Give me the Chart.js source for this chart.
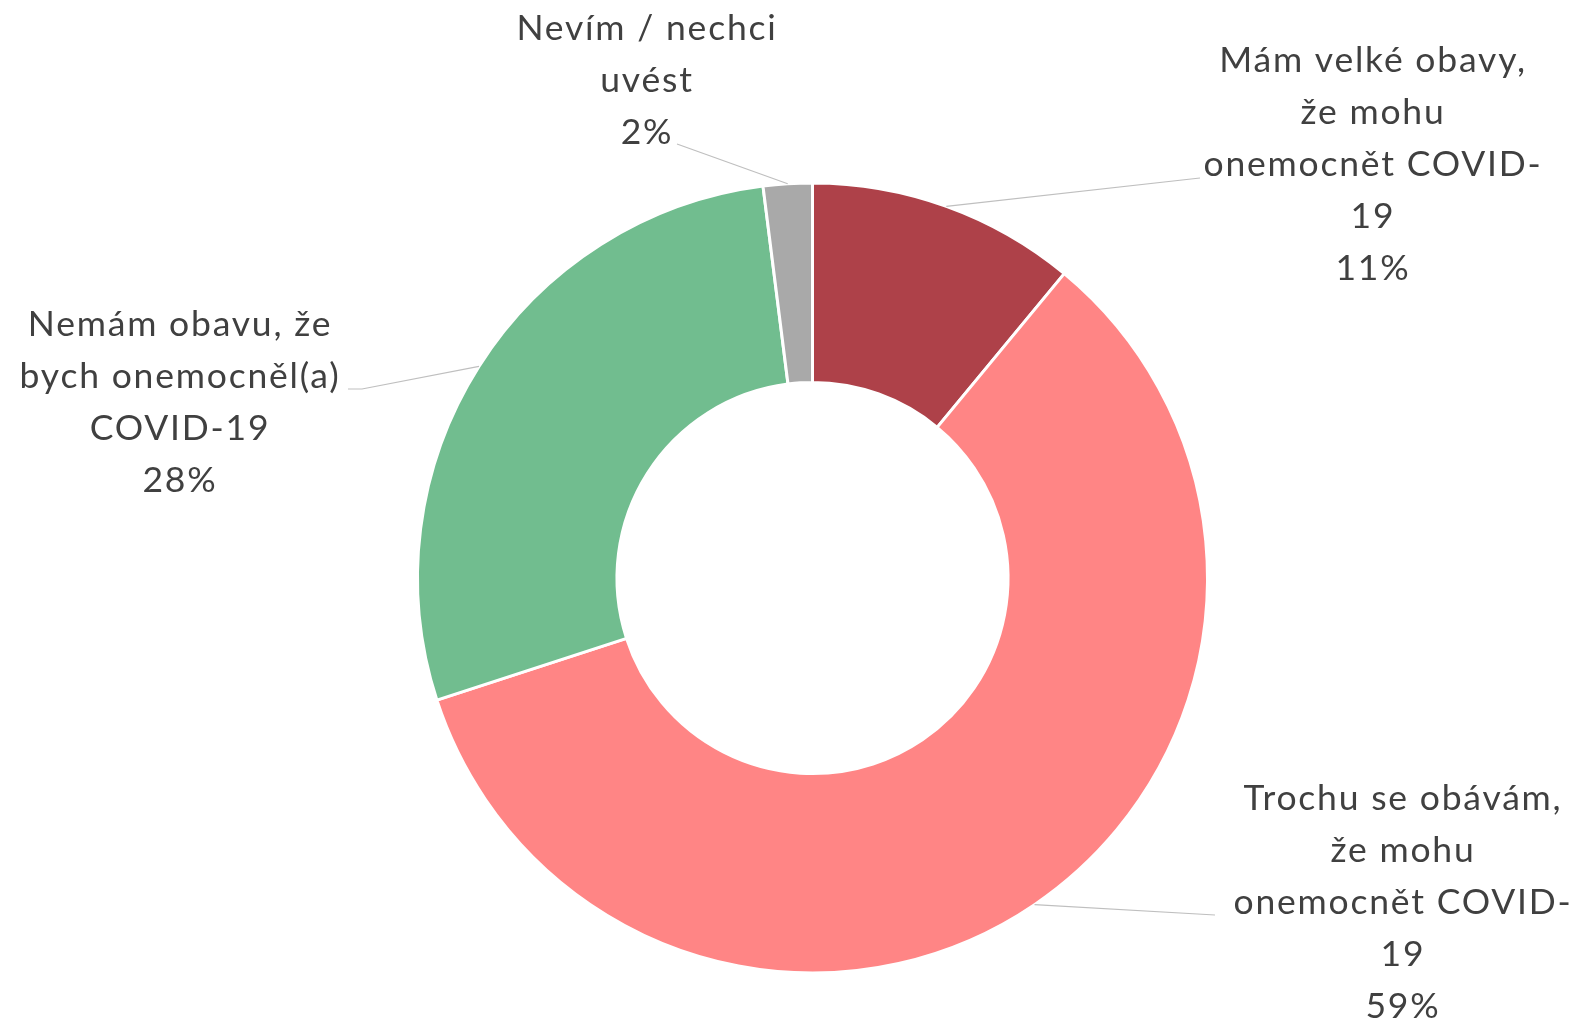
<!DOCTYPE html>
<html>
<head>
<meta charset="utf-8">
<script src="https://cdn.jsdelivr.net/npm/chart.js@4.4.1/dist/chart.umd.min.js"></script>
<style>
  html, body { margin: 0; padding: 0; background: #ffffff; }
  #wrap { width: 1575px; height: 1022px; position: relative; }
</style>
</head>
<body>
<div id="wrap"><canvas id="c" width="1575" height="1022"></canvas></div>
<script>
// ---- data ----
const categories = [
  ["Mám velké obavy,", "že mohu", "onemocnět COVID-", "19"],
  ["Trochu se obávám,", "že mohu", "onemocnět COVID-", "19"],
  ["Nemám obavu, že", "bych onemocněl(a)", "COVID-19"],
  ["Nevím / nechci", "uvést"]
];
const values = [11, 59, 28, 2];
const colors = ["#AE4149", "#FF8585", "#71BD8F", "#A9A9A9"];

// ---- label layout (page pixels): center x / first-line y, leader end ----
const labelPos = [[1372, 61], [1402, 799], [179, 325], [646, 29]];
const leaderEnd = [[1200, 178, null], [1215, 915, null], [362, 389, 348], [677, 144, null]];

const FONT_FAMILY = "Lato, 'Open Sans', sans-serif";
const FONT_SIZE = 35.5;
const LINE_H = 52;

const labelPlugin = {
  id: 'leaderLabels',
  afterDraw(chart) {
    const ctx = chart.ctx;
    const meta = chart.getDatasetMeta(0);
    ctx.save();
    meta.data.forEach((arc, i) => {
      const p = arc.getProps(['x', 'y', 'startAngle', 'endAngle', 'outerRadius'], true);
      const mid = (p.startAngle + p.endAngle) / 2;
      const sx = p.x + Math.cos(mid) * p.outerRadius;
      const sy = p.y + Math.sin(mid) * p.outerRadius;
      const e = leaderEnd[i];
      ctx.strokeStyle = '#BFBFBF';
      ctx.lineWidth = 1.2;
      ctx.beginPath();
      ctx.moveTo(sx, sy);
      ctx.lineTo(e[0], e[1]);
      if (e[2] !== null) ctx.lineTo(e[2], e[1]);
      ctx.stroke();

      const lines = categories[i].concat([values[i] + '%']);
      ctx.fillStyle = '#404040';
      ctx.font = FONT_SIZE + 'px ' + FONT_FAMILY;
      try { ctx.letterSpacing = '1.8px'; } catch (err) {}
      ctx.textAlign = 'center';
      ctx.textBaseline = 'middle';
      lines.forEach((t, k) => {
        ctx.fillText(t, labelPos[i][0] + 1, labelPos[i][1] + k * LINE_H);
      });
    });
    ctx.restore();
  }
};

new Chart(document.getElementById('c'), {
  type: 'doughnut',
  data: {
    labels: categories.map(l => l.join(' ')),
    datasets: [{
      data: values,
      backgroundColor: colors,
      borderColor: '#FFFFFF',
      borderWidth: 3,
      hoverOffset: 0
    }]
  },
  options: {
    responsive: false,
    animation: false,
    cutout: '49.5%',
    layout: { padding: { top: 181, bottom: 47, left: 416, right: 366 } },
    plugins: { legend: { display: false }, tooltip: { enabled: false } }
  },
  plugins: [labelPlugin]
});
</script>
</body>
</html>
